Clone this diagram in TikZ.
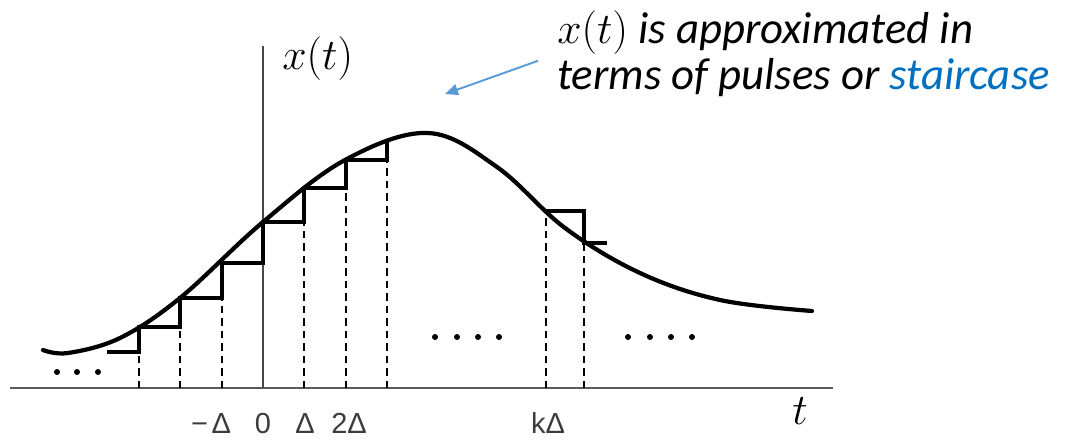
\documentclass[tikz,border=0pt]{standalone}
\usepackage{fontspec}
\usepackage{tikz}
\usetikzlibrary{arrows.meta,positioning}
\newfontfamily\notefont{Carlito}
\newfontfamily\tickfont{Liberation Sans}
\definecolor{axisGray}{RGB}{90,90,90}
\definecolor{tickGray}{RGB}{60,60,60}
\definecolor{arrowBlue}{RGB}{91,155,213}
\definecolor{stairBlue}{RGB}{0,112,192}

\begin{document}
\begin{tikzpicture}[x=0.02cm, y=-0.02cm,
    ticklabel/.style={text=tickGray, inner sep=0pt, anchor=base, font=\tickfont\fontsize{16.5}{18}\selectfont},
    guide/.style={black, line width=0.95pt, dash pattern=on 0.15cm off 0.1cm},
    stair/.style={black, line width=2pt, line join=miter},
    noteArrow/.style={arrowBlue, line width=1.1pt, -{Triangle[length=0.26cm,width=0.22cm]}}]

    \useasboundingbox (0,0) rectangle (1089,442);

    % axes
    \draw[axisGray, line width=1.4pt] (10,388) -- (833,388);
    \draw[axisGray!80!black, line width=1pt] (263,388) -- (263,46);
    \node[anchor=base west, inner sep=0pt, font=\fontsize{27}{29}\selectfont] (xlabel) at (282,70) {$x(t)$};
    \node[anchor=base west, inner sep=0pt, font=\fontsize{27}{29}\selectfont] (tlabel) at (792,424) {$t$};

    % dashed guides from the axis up to the steps
    \foreach \gx/\gy in {139/352, 180/327, 222/298, 304/222, 346/188, 387/160, 546/211, 584/243}
        \draw[guide] (\gx,388) -- (\gx,\gy);

    % staircase around t = 0
    \draw[stair] (107,352) -- (139,352) -- (139,327) -- (180,327) -- (180,298)
        -- (222,298) -- (222,263) -- (263,263) -- (263,222) -- (304,222)
        -- (304,188) -- (346,188) -- (346,160) -- (387,160) -- (387,141);

    % single pulse at k Delta
    \draw[stair] (546,211) -- (584,211) -- (584,243) -- (607,243);

    % curve x(t)
    \draw[black, line width=2.4pt, line cap=round] plot[smooth, tension=0.6] coordinates {
        (43,350) (68,353) (120,338) (180,298) (263,222) (345,160)
        (428,133) (497,167) (565,228) (640,273) (720,300) (812,311)};

    % dots
    \foreach \dx in {57,77,98}
        \fill (\dx,372) circle (3);
    \foreach \dx in {435,457,478,499,628,650,671,692}
        \fill (\dx,337) circle (3);

    % tick labels
    \node[ticklabel] (lblmd) at (211,433) {−\kern2pt Δ};
    \node[ticklabel] (lblz) at (263,433) {0};
    \node[ticklabel] (lbld) at (305,433) {Δ};
    \node[ticklabel] (lbltwo) at (349,433) {2Δ};
    \node[ticklabel] (lblk) at (548,433) {kΔ};

    % note
    \node[anchor=west, align=left, inner sep=0pt,
        font=\notefont\itshape\fontsize{25.5}{26}\selectfont] (note) at (557,54)
        {$x(t)$ is approximated in\\terms of pulses or \textcolor{stairBlue}{staircase}};
    \coordinate (tip) at (445,94);
    \draw[noteArrow, shorten <=0.4cm] (note.west) -- (tip);
\end{tikzpicture}
\end{document}
